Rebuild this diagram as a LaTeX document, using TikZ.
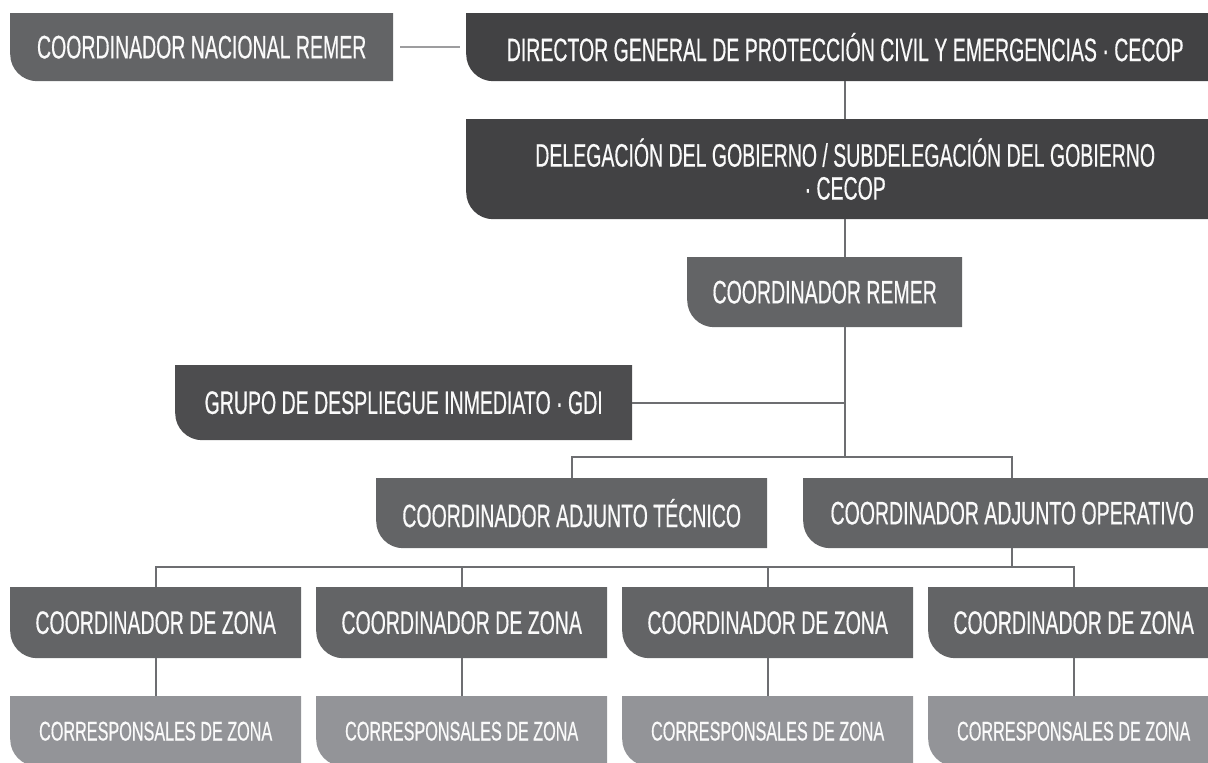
\documentclass[tikz,border=0pt]{standalone}
\usepackage{fontspec}
\setmainfont{Liberation Sans}[FakeStretch=0.60, FakeBold=0.4]
\definecolor{cmid}{HTML}{636466}
\definecolor{cdark}{HTML}{424244}
\definecolor{cdarkb}{HTML}{4D4D4F}
\definecolor{clight}{HTML}{939498}
\definecolor{cline}{HTML}{6D6E71}
\definecolor{clinel}{HTML}{9D9D9F}
\definecolor{ctext}{HTML}{FAFAFA}
\tikzset{
  orgbox/.style={rectangle, inner sep=0pt, anchor=north west, fill=white,
    text=ctext, align=center, font=\fontsize{32.5}{33}\selectfont,
    path picture={\fill[#1] (path picture bounding box.north west) -- (path picture bounding box.north east) -- (path picture bounding box.south east) -- ([xshift=27pt]path picture bounding box.south west) arc[start angle=270,end angle=180,radius=27pt] -- cycle;}},
  smalltext/.style={font=\fontsize{27}{28}\selectfont},
  lnk/.style={draw=cline, line width=2pt},
  lnkl/.style={draw=clinel, line width=2pt}
}
\begin{document}
\begin{tikzpicture}[x=1pt,y=1pt]
\useasboundingbox (0,0) rectangle (1208,-763);
\clip (0,0) rectangle (1208,-763);
\node[orgbox=cmid, minimum width=383pt, minimum height=68pt] (a) at (10,-13) {COORDINADOR NACIONAL REMER};
\node[orgbox=cdark, minimum width=758pt, minimum height=68pt] (b) at (466,-13) {DIRECTOR GENERAL DE PROTECCIÓN CIVIL Y EMERGENCIAS · CECOP};
\node[orgbox=cdark, minimum width=758pt, minimum height=100pt] (c) at (466,-119) {DELEGACIÓN DEL GOBIERNO / SUBDELEGACIÓN DEL GOBIERNO\\· CECOP};
\node[orgbox=cmid, minimum width=275pt, minimum height=70pt] (d) at (687,-257) {COORDINADOR REMER};
\node[orgbox=cdarkb, minimum width=457pt, minimum height=75pt] (e) at (175,-365) {GRUPO DE DESPLIEGUE INMEDIATO · GDI};
\node[orgbox=cmid, minimum width=391pt, minimum height=70pt] (f) at (376,-478) {COORDINADOR ADJUNTO TÉCNICO};
\node[orgbox=cmid, minimum width=418pt, minimum height=70pt] (g) at (803,-478) {COORDINADOR ADJUNTO OPERATIVO};
\foreach \i/\x in {1/10,2/316,3/622,4/928}{
  \node[orgbox=cmid, minimum width=291pt, minimum height=71pt] (z\i) at (\x,-587) {COORDINADOR DE ZONA};
  \node[orgbox=clight, smalltext, minimum width=291pt, minimum height=70pt] (k\i) at (\x,-696) {CORRESPONSALES DE ZONA};
}
\coordinate (jn) at (845,-457);
\coordinate (bus) at (0,-567);
\draw[lnkl, shorten <=7pt, shorten >=6pt] (a.east) -- (b.west);
\draw[lnk] (b.south) -- (c.north);
\draw[lnk] (c.south) -- (c.south |- d.north);
\draw[lnk] (d.south -| jn) -- (jn);
\draw[lnk] (e.east) -- (e.east -| jn);
\draw[lnk] (f.north) |- (jn) -| (g.north);
\draw[lnk] (g.south) -- (g.south |- bus);
\draw[lnk] (z1.north) -- (z1.north |- bus) -- (z4.north |- bus) -- (z4.north);
\draw[lnk] (z2.north) -- (z2.north |- bus);
\draw[lnk] (z3.north) -- (z3.north |- bus);
\foreach \i in {1,2,3,4}{\draw[lnk] (z\i.south) -- (k\i.north);}
\end{tikzpicture}
\end{document}
